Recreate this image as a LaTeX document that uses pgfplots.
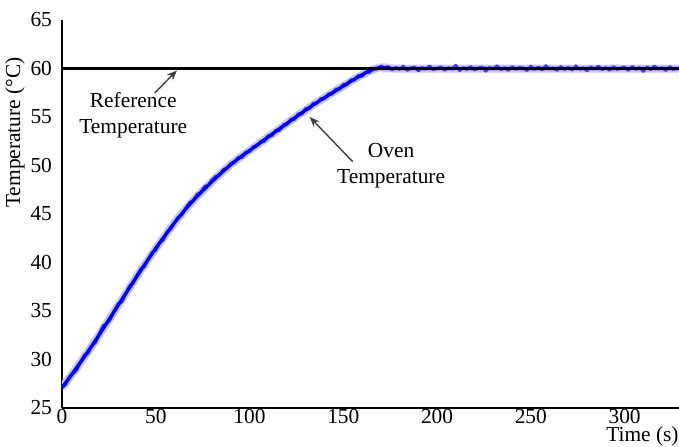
\documentclass[border=0pt]{standalone}
\usepackage{fontspec}
\setmainfont{Liberation Serif}
\usepackage{pgfplots}
\usepackage{pgfplotstable}
\pgfplotsset{compat=1.18}
\usetikzlibrary{arrows.meta}

\pgfplotstableread{
t T
0 27.15
2 27.40
4 28.26
6 28.53
8 28.94
10 29.80
12 30.51
14 30.64
16 31.45
18 31.75
20 32.72
22 33.50
24 33.70
26 34.18
28 35.08
30 35.78
32 35.92
34 36.82
36 37.60
38 37.85
40 38.72
42 39.36
44 39.55
46 40.35
48 41.04
50 41.25
52 42.05
54 42.30
56 43.18
58 43.40
60 44.12
62 44.70
64 44.90
66 45.62
68 46.20
70 46.38
72 47.05
74 47.22
76 47.85
78 47.95
80 48.55
82 48.90
84 48.98
86 49.60
88 49.70
90 50.25
92 50.30
94 50.85
96 50.80
98 51.40
100 51.42
102 51.95
104 52.00
106 52.50
108 52.48
110 53.10
112 53.05
114 53.65
116 53.60
118 54.22
120 54.20
122 54.80
124 54.72
126 55.35
128 55.28
130 55.90
132 55.85
134 56.45
136 56.40
138 56.92
140 56.88
142 57.40
144 57.35
146 57.90
148 57.85
150 58.38
152 58.30
154 58.85
156 58.78
158 59.30
160 59.18
162 59.65
164 59.58
166 60.05
168 59.92
170 60.25
172 60.08
174 60.20
176 59.85
178 60.12
180 59.90
182 60.25
184 59.80
186 60.05
188 60.15
190 59.75
192 60.10
194 59.92
196 60.28
198 59.88
200 60.02
202 60.18
204 59.82
206 60.08
208 59.95
210 60.35
212 59.78
214 60.10
216 59.90
218 60.22
220 59.85
222 60.05
224 60.15
226 59.72
228 60.12
230 59.95
232 60.30
234 59.88
236 60.08
238 59.80
240 60.20
242 59.92
244 60.12
246 60.02
248 59.78
250 60.25
252 59.90
254 60.15
256 59.85
258 60.30
260 59.95
262 60.05
264 59.80
266 60.22
268 59.90
270 60.12
272 59.85
274 60.28
276 59.92
278 60.08
280 59.75
282 60.18
284 59.95
286 60.25
288 59.88
290 60.10
292 59.82
294 60.20
296 59.90
298 60.05
300 60.15
302 59.80
304 60.22
306 59.92
308 60.10
310 59.70
312 60.18
314 59.88
316 60.25
318 59.95
320 60.08
322 59.78
324 60.20
326 59.90
328 60.05
}\oventable

% centre of the blue band
\pgfplotstableread{
t T
0 27.1
5 28.4
10 29.75
15 31.15
20 32.6
25 34.1
30 35.6
35 37.1
40 38.6
45 40.05
50 41.45
55 42.8
60 44.1
65 45.3
70 46.4
75 47.4
80 48.35
85 49.25
90 50.1
95 50.85
100 51.55
105 52.25
110 52.95
115 53.65
120 54.35
125 55.05
130 55.72
135 56.38
140 57.0
145 57.6
150 58.2
155 58.8
160 59.35
165 59.85
170 60.12
175 60.05
180 60.0
329 60.0
}\oventrend

\begin{document}
\begin{tikzpicture}[font=\fontsize{10.7}{13}\selectfont]
\useasboundingbox (-31pt,-19pt) rectangle (308.5pt,204pt);
\begin{axis}[
    at={(0,0)}, anchor=south west,
    scale only axis,
    width=308.5pt, height=194pt,
    xmin=0, xmax=329, ymin=25, ymax=65,
    axis lines=left,
    axis line style={-, line width=1pt},
    major tick length=0pt,
    xtick={0,50,...,300}, ytick={25,30,...,65},
    /pgf/number format/assume math mode=true,
    x tick label style={inner sep=0.5pt, yshift=0.2pt},
    y tick label style={xshift=-1.5pt},
    xlabel={Time (s)},
    xlabel style={at={(rel axis cs:1,0)}, anchor=north east, inner sep=0pt, yshift=-9.3pt},
    ylabel={Temperature (°C)},
    ylabel style={at={(ticklabel cs:0.71)}},
    ylabel shift=-4pt,
]
\addplot[blue!22, line width=4pt, line join=round, smooth, tension=0.4] table[x=t, y=T] {\oventrend};
\addplot[blue!75, line width=1.4pt, line join=round] table[x=t, y=T] {\oventable};
\addplot[blue, line width=1.7pt, line join=round, smooth, tension=0.4] table[x=t, y=T] {\oventrend};
\addplot[black, line width=1.2pt] coordinates {(0,60) (329,60)};

\node[align=center] at (axis cs:38,55.2) {Reference\\Temperature};
\draw[black!75, line width=0.7pt, -{Stealth[length=5pt,width=4pt]}]
    (axis cs:49.5,57.5) -- (axis cs:61.3,59.8);
\node[align=center] at (axis cs:175.5,50.0) {Oven\\Temperature};
\draw[black!75, line width=0.7pt, -{Stealth[length=5pt,width=4pt]}]
    (axis cs:155,50.4) -- (axis cs:132.1,55.0);
\end{axis}
\end{tikzpicture}
\end{document}
